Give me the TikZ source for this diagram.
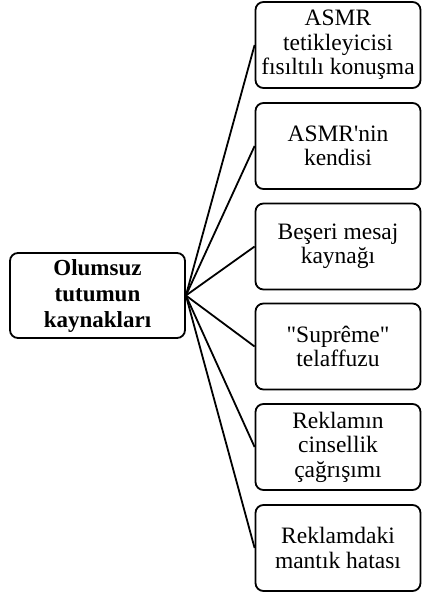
\documentclass[tikz,border=0pt]{standalone}
\usepackage{fontspec}
\setmainfont{Liberation Serif}[Ligatures=TeXOff]
\begin{document}
\begin{tikzpicture}[x=1pt,y=-1pt,
  box/.style={draw=black,line width=1.8pt,rounded corners=8pt,align=center,
    inner sep=0pt,font=\fontsize{23.5}{24.5}\selectfont},
  leftbox/.style={box,minimum width=175pt,minimum height=85pt,font=\fontsize{23}{26}\selectfont\bfseries},
  rightbox/.style={box,minimum width=165pt,minimum height=86pt},
  conn/.style={line width=1.8pt}]
\useasboundingbox (0,0) rectangle (422,595);
\node[leftbox] (src) at (97.5,295.5) {Olumsuz\\tutumun\\kaynakları};
\node[rightbox] (b1) at (338,45) {ASMR\\tetikleyicisi\\fısıltılı konuşma};
\node[rightbox] (b2) at (338,146) {ASMR'nin\\kendisi};
\node[rightbox] (b3) at (338,246.5) {Beşeri mesaj\\kaynağı};
\node[rightbox] (b4) at (338,346.5) {"Suprême"\\telaffuzu};
\node[rightbox] (b5) at (338,447) {Reklamın\\cinsellik\\çağrışımı};
\node[rightbox] (b6) at (338,548) {Reklamdaki\\mantık hatası};
\foreach \b in {b1,b2,b3,b4,b5,b6}
  \draw[conn] (src.east) -- (\b.west);
\end{tikzpicture}
\end{document}
